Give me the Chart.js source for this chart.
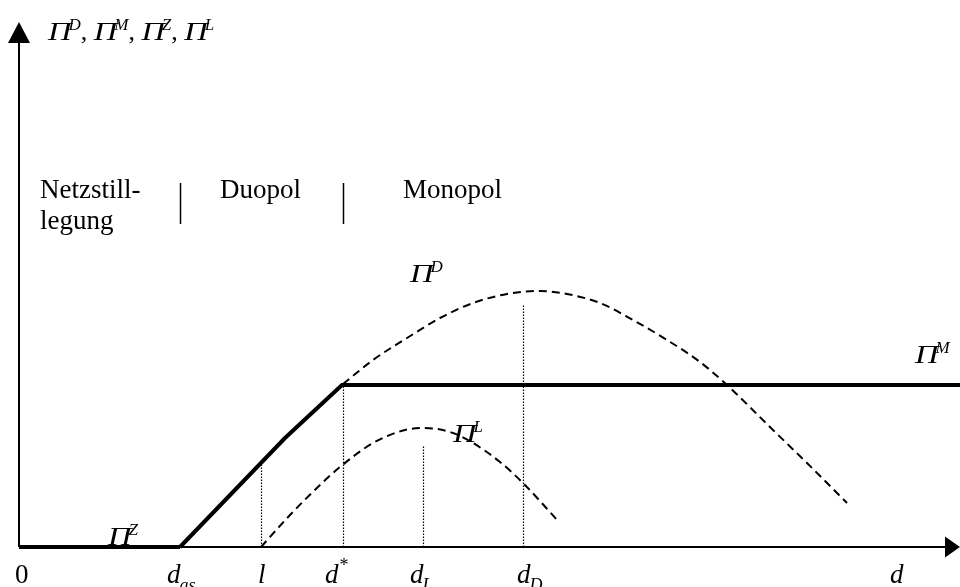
<!DOCTYPE html>
<html>
<head>
<meta charset="utf-8">
<script src="https://cdn.jsdelivr.net/npm/chart.js@4/dist/chart.umd.min.js"></script>
<style>
  html, body { margin: 0; padding: 0; background: #fff; }
  #wrap { width: 960px; height: 587px; position: relative; }
</style>
</head>
<body>
<div id="wrap"><canvas id="chart"></canvas></div>
<script>
// values (x = d, y = profit, arbitrary units)
const xTicks = [0, 16.1, 24.2, 32.4, 40.4, 50.4, 87.8];
const xTickMain = ['0', 'd', 'l', 'd', 'd', 'd', 'd'];
const xTickSub = ['', 'as', '', '', 'L', 'D', ''];
const xTickSup = ['', '', '', '*', '', '', ''];

// Pi^Z : network shutdown
const zX = [0, 16.1];
const zY = [0, 0];
// Pi^M : monopoly
const mX = [16.1, 26.6, 32.3, 94.1];
const mY = [0, 10.9, 16.2, 16.2];
// Pi^D
const dX = [32.4, 35.4, 38.8, 42.1, 45.4, 48.8, 52.1, 54.8, 58.1, 61.4, 64.8, 68.1, 70.8, 75.4, 78.8, 82.8];
const dY = [16.3, 18.7, 20.9, 22.9, 24.4, 25.3, 25.6, 25.3, 24.4, 22.7, 20.7, 18.5, 16.2, 11.7, 8.4, 4.4];
// Pi^L
const lX = [24.2, 27.1, 30.1, 32.1, 35.4, 38.6, 40.6, 43.4, 45.4, 48.1, 50.4, 54.0];
const lY = [0, 3.2, 6.2, 8.0, 10.4, 11.7, 11.9, 11.4, 10.4, 8.5, 6.4, 2.5];
// dotted drop lines
const dropX = [24.25, 32.45, 40.45, 50.45];
const dropTop = [8.4, 16.2, 10.2, 24.3];

const regionNames = [['Netzstill-', 'legung'], ['Duopol'], ['Monopol']];
const regionStart = [0, 16.1, 32.4];
const curveNames = ['D', 'M', 'Z', 'L'];

// layout / styles
const serif = '"Liberation Serif", "Times New Roman", serif';
const tickDx = [-4, -13, -3, -18, -13, -6, -7];
const regionDx = [21, 40, 60];
const curveLabelAt = { D: [39.1, 26.5], M: [89.6, 18.4], Z: [8.9, 0.2], L: [43.4, 10.5] };

const pts = (xs, ys) => xs.map((x, i) => ({ x: x, y: ys[i] }));

const datasets = [
  { data: pts(zX, zY), borderWidth: 4 },
  { data: pts(mX, mY), borderWidth: 4 },
  { data: pts(dX, dY), borderWidth: 2, borderDash: [8, 5], cubicInterpolationMode: 'monotone' },
  { data: pts(lX, lY), borderWidth: 2, borderDash: [8, 5], cubicInterpolationMode: 'monotone' }
];
dropX.forEach((x, i) => {
  datasets.push({ data: pts([x, x], [0, dropTop[i]]), borderWidth: 1.2, borderDash: [1.5, 1.5] });
});
datasets.forEach(ds => {
  ds.showLine = true;
  ds.pointRadius = 0;
  ds.borderColor = '#000';
  ds.fill = false;
});

// italic Pi, a bit wider than the font's own glyph, with a tight superscript
function drawPi(ctx, x, y, sup) {
  ctx.font = 'italic 26px ' + serif;
  const w = ctx.measureText('\u03A0').width * 1.25;
  ctx.save();
  ctx.translate(x, y);
  ctx.scale(1.25, 1);
  ctx.fillText('\u03A0', 0, 0);
  ctx.restore();
  ctx.font = 'italic 17px ' + serif;
  ctx.fillText(sup, x + w - 3, y - 10);
  return x + w - 3 + ctx.measureText(sup).width;
}

const axesPlugin = {
  id: 'axes',
  beforeDatasetsDraw(chart) {
    const ctx = chart.ctx;
    const xs = chart.scales.x, ys = chart.scales.y;
    const ox = xs.getPixelForValue(0), oy = ys.getPixelForValue(0);
    const right = chart.chartArea.right, top = 22;
    ctx.save();
    ctx.strokeStyle = '#000';
    ctx.fillStyle = '#000';
    ctx.lineWidth = 2;
    ctx.beginPath();
    ctx.moveTo(ox, oy); ctx.lineTo(right - 10, oy);
    ctx.moveTo(ox, oy); ctx.lineTo(ox, top + 10);
    ctx.stroke();
    // arrow heads
    ctx.beginPath();
    ctx.moveTo(right, oy); ctx.lineTo(right - 15, oy - 10.5); ctx.lineTo(right - 15, oy + 10.5);
    ctx.closePath(); ctx.fill();
    ctx.beginPath();
    ctx.moveTo(ox, top); ctx.lineTo(ox - 11, top + 21); ctx.lineTo(ox + 11, top + 21);
    ctx.closePath(); ctx.fill();
    ctx.restore();
  },
  afterDatasetsDraw(chart) {
    const ctx = chart.ctx;
    const xs = chart.scales.x, ys = chart.scales.y;
    ctx.save();
    ctx.fillStyle = '#000';
    ctx.strokeStyle = '#000';
    ctx.textBaseline = 'alphabetic';

    // x tick labels
    xTicks.forEach((v, i) => {
      let x = xs.getPixelForValue(v) + tickDx[i];
      const y = 583;
      ctx.font = (i === 0 ? '' : 'italic ') + '27px ' + serif;
      ctx.fillText(xTickMain[i], x, y);
      x += ctx.measureText(xTickMain[i]).width;
      if (xTickSub[i]) {
        ctx.font = 'italic 18px ' + serif;
        ctx.fillText(xTickSub[i], x - 1, y + 8);
      }
      if (xTickSup[i]) {
        ctx.font = '18px ' + serif;
        ctx.fillText(xTickSup[i], x + 1, y - 12);
      }
    });

    // y axis title
    let tx = xs.getPixelForValue(0) + 29;
    curveNames.forEach((n, i) => {
      tx = drawPi(ctx, tx, 40, n);
      if (i < curveNames.length - 1) {
        ctx.font = '26px ' + serif;
        ctx.fillText(', ', tx, 40);
        tx += ctx.measureText(', ').width;
      }
    });

    // curve labels
    curveNames.forEach(n => {
      const p = curveLabelAt[n];
      drawPi(ctx, xs.getPixelForValue(p[0]), ys.getPixelForValue(p[1]), n);
    });

    // regions
    regionNames.forEach((lines, i) => {
      const x = xs.getPixelForValue(regionStart[i]) + regionDx[i];
      ctx.font = '27px ' + serif;
      lines.forEach((t, j) => ctx.fillText(t, x, 198 + j * 31));
      if (i > 0) {
        const sx = Math.round(xs.getPixelForValue(regionStart[i])) + 0.5;
        ctx.lineWidth = 1.5;
        ctx.beginPath();
        ctx.moveTo(sx, 183); ctx.lineTo(sx, 224);
        ctx.stroke();
      }
    });
    ctx.restore();
  }
};

new Chart(document.getElementById('chart'), {
  type: 'scatter',
  data: { datasets: datasets },
  options: {
    responsive: true,
    maintainAspectRatio: false,
    animation: false,
    layout: { padding: 0 },
    plugins: { legend: { display: false }, tooltip: { enabled: false } },
    scales: {
      x: { type: 'linear', display: false, min: -1.9, max: 94.1 },
      y: { type: 'linear', display: false, min: -4.0, max: 54.7 }
    }
  },
  plugins: [axesPlugin]
});
</script>
</body>
</html>
